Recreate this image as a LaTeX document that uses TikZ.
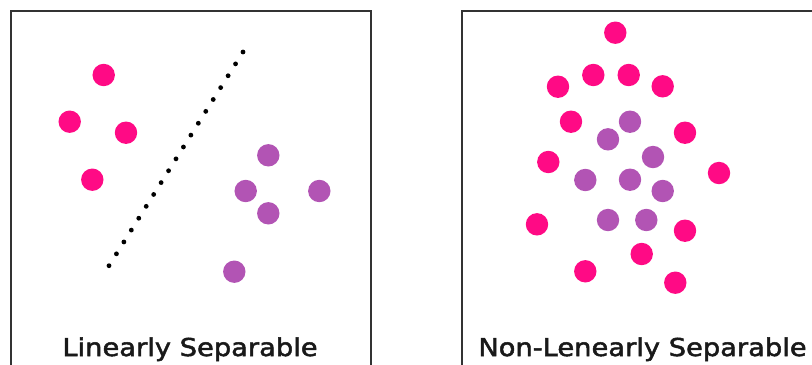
\documentclass[tikz,border=0pt]{standalone}
\usepackage{fontspec}
\setmainfont{DejaVu Sans}
\newfontfamily\capfont[FakeStretch=1.11, FakeBold=2]{DejaVu Sans}
\usepackage{tikz}
\definecolor{dotpink}{HTML}{FF0A85}
\definecolor{dotpurple}{HTML}{B254B4}
\definecolor{framegray}{HTML}{333333}

\begin{document}
\begin{tikzpicture}[
        x=0.025cm, y=-0.025cm,
        pinkdot/.style={circle, fill=dotpink, inner sep=0pt, minimum size=0.56cm},
        purpledot/.style={circle, fill=dotpurple, inner sep=0pt, minimum size=0.56cm},
        sepdot/.style={circle, fill=black, inner sep=0pt, minimum size=0.12cm},
        panel/.style={draw=framegray, line width=0.9pt},
        caption/.style={font=\capfont\fontsize{17.5}{20}\selectfont, text=black!90, anchor=base}
      ]
        \useasboundingbox (0,0) rectangle (812,364);

        % left panel
        \draw[panel] (11,376) -- (11,11) -- (371,11) -- (371,376);
        \node[caption] (lincap) at (190,356) {Linearly Separable};

        \foreach \n/\x/\y in {a/103.7/75, b/69.7/121.7, c/126/132.7, d/92.3/179.7}
          \node[pinkdot] (lp\n) at (\x,\y) {};
        \foreach \n/\x/\y in {a/268.3/155.3, b/245.7/191, c/319.3/191,
                             d/268.3/213.3, e/234.3/271.7}
          \node[purpledot] (lq\n) at (\x,\y) {};

        % separating line
        \foreach \i in {0,...,18}
          \node[sepdot] (sep\i) at ({243-\i*134/18},{52+\i*213.7/18}) {};

        % right panel
        \draw[panel] (462,376) -- (462,11) -- (822,11);
        \node[caption] (noncap) at (642.5,356) {Non-Lenearly Separable};

        \foreach \n/\x/\y in {a/615.3/32.7, b/593.3/75, c/628.7/75, d/558/86.7,
                             e/662.7/86.3, f/571/121.7, g/685/132.7, h/548.3/162,
                             i/719/173, j/537/224.3, k/685/230.7, l/641.7/254,
                             m/585.3/271.3, n/675.3/282.7}
          \node[pinkdot] (rp\n) at (\x,\y) {};
        \foreach \n/\x/\y in {a/630/121.7, b/608/139.3, c/653/157, d/585.3/180,
                             e/630/179.7, f/662.7/191, g/608/220, h/646.3/220}
          \node[purpledot] (rq\n) at (\x,\y) {};
      \end{tikzpicture}
\end{document}
